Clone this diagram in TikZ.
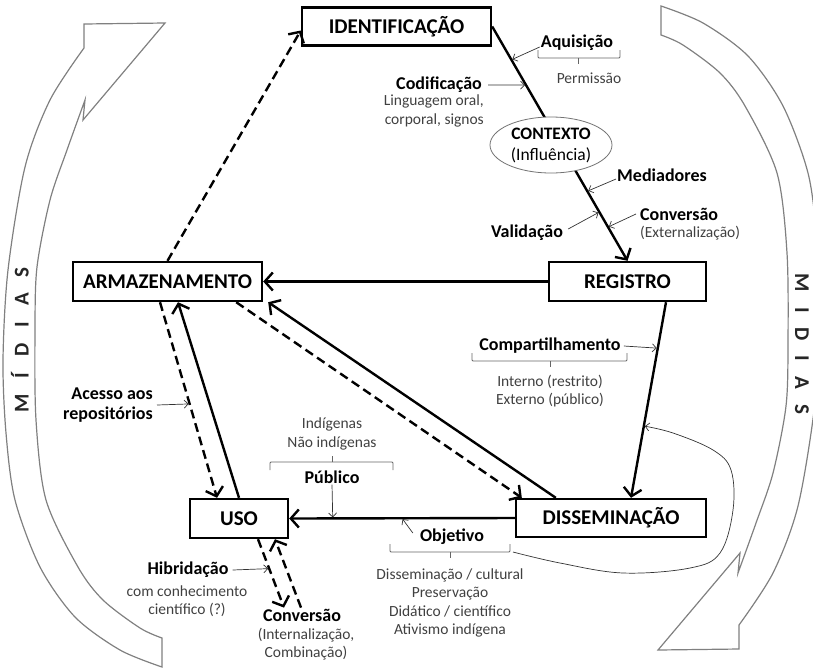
\documentclass[tikz,border=0pt]{standalone}
\usepackage{fontspec}
\setmainfont{Carlito}
\usetikzlibrary{arrows.meta,calc,shapes.geometric}

\begin{document}
\begin{tikzpicture}[x=1pt,y=-1pt,
  box/.style={draw,line width=2.4pt,inner sep=0pt,font=\fontsize{21}{24}\selectfont\bfseries},
  flow/.style={line width=2.4pt,-{Straight Barb[length=8pt,width=18pt]}},
  dflow/.style={flow,dash pattern=on 9pt off 5pt},
  pointer/.style={line width=0.7pt,black!80,-{Straight Barb[length=4pt,width=8pt]},shorten >=1pt},
  lbl/.style={font=\fontsize{18}{20}\selectfont\bfseries,inner sep=1pt},
  sub/.style={font=\fontsize{15.5}{18.3}\selectfont,text=black!75,inner sep=0pt},
  brk/.style={draw=black!60,line width=0.8pt,rounded corners=1pt},
  band/.style={draw=black!50,line width=1.2pt,line join=miter},
  midias/.style={font=\fontsize{21}{24}\selectfont\bfseries,text=black!85,inner sep=0pt}
]
\useasboundingbox (0,0) rectangle (813,670);

% curved media bands on both sides (second one is the first turned half a turn)
\foreach \ang in {0,180}
  \draw[band,rotate around={\ang:(411.5,336.5)}]
    (84,24) -- (165,23) -- (83,120) -- (85,100)
    -- plot[smooth] coordinates {(85,100) (67,150) (50,200) (37,267) (35,330) (36,420) (46,500) (78,567) (103,600) (140,628) (162,638)}
    -- (162,667)
    -- plot[smooth] coordinates {(162,667) (120,650) (75,617) (40,567) (15,500) (6,433) (3,360) (8,270) (25,167) (50,100) (84,48)}
    -- cycle;

\node[midias,rotate=90] (mleft) at (20,340)
  {M\hspace{16pt}Í\hspace{16pt}D\hspace{16pt}I\hspace{16pt}A\hspace{16pt}S};
\node[midias,rotate=-90] (mright) at (802,344)
  {M\hspace{15pt}I\hspace{15pt}D\hspace{15pt}I\hspace{15pt}A\hspace{15pt}S};

% process boxes
\node[box,minimum width=189pt,minimum height=38pt] (ident) at (396.5,26.5) {IDENTIFICAÇÃO};
\node[box,minimum width=189pt,minimum height=39pt] (armaz) at (167.5,281.5) {ARMAZENAMENTO};
\node[box,minimum width=157pt,minimum height=39pt] (reg) at (627.5,281.5) {REGISTRO};
\node[box,minimum width=98pt,minimum height=39pt] (uso) at (239,518.5) {USO};
\node[box,minimum width=190pt,minimum height=38pt] (diss) at (611,518) {DISSEMINAÇÃO};

\node[lbl] (conv) at (302,615) {Conversão};

% end points of the slanted connectors
\coordinate (rs) at ([xshift=38.5pt]reg.south);
\coordinate (dn) at ([xshift=20pt]diss.north);
\coordinate (as) at ([xshift=-7.5pt]armaz.south);
\coordinate (un) at ([xshift=-22pt]uso.north);
\coordinate (us) at ([xshift=19pt]uso.south);
\coordinate (cn) at ([xshift=-18pt]conv.north);

% main flows
\draw[flow] (ident.east) -- (reg.north);
\draw[flow] (reg.west) -- (armaz.east);
\draw[flow] (rs) -- (dn);
\draw[flow] (diss.west) -- (uso.east);
\draw[flow] ([xshift=41pt]diss.north west) -- ([xshift=5pt]armaz.south east);
\draw[dflow] ([xshift=-27pt]armaz.south east) -- ([xshift=7pt]diss.north west);
\draw[flow] (uso.north) -- ([xshift=10.5pt]armaz.south);
\draw[dflow] (as) -- (un);
\draw[dflow] (armaz.north) -- ([yshift=-4pt]ident.west);
\draw[dflow] (us) -- (cn);
\draw[dflow] ([xshift=-1pt]conv.north) -- ([xshift=36pt]uso.south);

% context ellipse sits on the identification line
\node[ellipse,draw=black!55,fill=white,line width=0.8pt,minimum width=122pt,minimum height=56pt,
      inner sep=0pt,align=center,font=\fontsize{17.5}{21}\selectfont] (ctx) at (551,145)
  {\textbf{CONTEXTO}\\(Influência)};

% labels
\node[lbl] (aq) at (577,43) {Aquisição};
\node[sub] (perm) at (589,78) {Permissão};
\node[lbl,anchor=east] (cod) at (483,85) {Codificação};
\node[sub,anchor=east,align=right] (codsub) at (484,111) {Linguagem oral,\\corporal, signos};
\node[lbl] (med) at (662,175) {Mediadores};
\node[lbl] (val) at (527,233) {Validação};
\node[lbl,anchor=west] (convx) at (639,214) {Conversão};
\node[sub,anchor=west] (ext) at (640,233) {(Externalização)};
\node[lbl] (comp) at (550,346) {Compartilhamento};
\node[sub,align=center] (ie) at (550,391) {Interno (restrito)\\Externo (público)};
\node[sub,align=center] (ind) at (332,434) {Indígenas\\Não indígenas};
\node[lbl] (pub) at (332,477) {Público};
\node[lbl] (obj) at (452,537) {Objetivo};
\node[sub,align=center] (objsub) at (450,603)
  {Disseminação / cultural\\Preservação\\Didático / científico\\Ativismo indígena};
\node[lbl,anchor=east,align=right] (acc) at (154,405) {Acesso aos\\repositórios};
\node[lbl] (hib) at (188,570) {Hibridação};
\node[sub,align=center] (hibsub) at (187,601) {com conhecimento\\científico (?)};
\node[sub,align=center] (convsub) at (306,644) {(Internalização,\\Combinação)};

% brackets grouping the sub-items
\draw[brk] (538,50) |- (578,58) -| (620,50);  \draw[brk] (578,58) -- (578,64);
\draw[brk] (472,353) |- (550,361) -| (627,353); \draw[brk] (550,361) -- (550,367);
\draw[brk] (390,544) |- (450,552) -| (510,544); \draw[brk] (450,552) -- (450,558);
\draw[brk] (270,470) |- (332,462) -| (393,470); \draw[brk] (332,462) -- (332,456);

% label pointers
\draw[pointer] ([yshift=-4pt]aq.west) -- ($(ident.east)!0.142!(reg.north)$);
\draw[pointer] ([xshift=5pt]cod.east) -- ($(ident.east)!0.25!(reg.north)$);
\draw[pointer] ([yshift=-4pt]med.west) -- ($(ident.east)!0.703!(reg.north)$);
\draw[pointer] ([xshift=4pt,yshift=4pt]val.east) -- ($(ident.east)!0.792!(reg.north)$);
\draw[pointer] ([xshift=-3pt]convx.west) -- ($(ident.east)!0.856!(reg.north)$);
\draw[pointer] ([xshift=2pt]comp.east) -- ($(rs)!0.235!(dn)$);
\draw[pointer] (pub.south) -- ($(diss.west)!0.807!(uso.east)$);
\draw[pointer] ([xshift=-6pt,yshift=4pt]obj.west) -- ($(diss.west)!0.5!(uso.east)$);
\draw[pointer] ([xshift=3pt]acc.east) -- ($(as)!0.52!(un)$);
\draw[pointer] ([xshift=3pt]hib.east) -- ($(us)!0.43!(cn)$);

% objective loop back to the sharing line
\coordinate (objR) at (513,552);
\coordinate (loopend) at ($(rs)!0.633!(dn)$);
\draw[pointer] plot[smooth,tension=0.6] coordinates
  {(objR) (560,563) (623,573) (690,568) (720,553) (733,510) (731,470) (713,450) (673,433) (loopend)};
\end{tikzpicture}
\end{document}
